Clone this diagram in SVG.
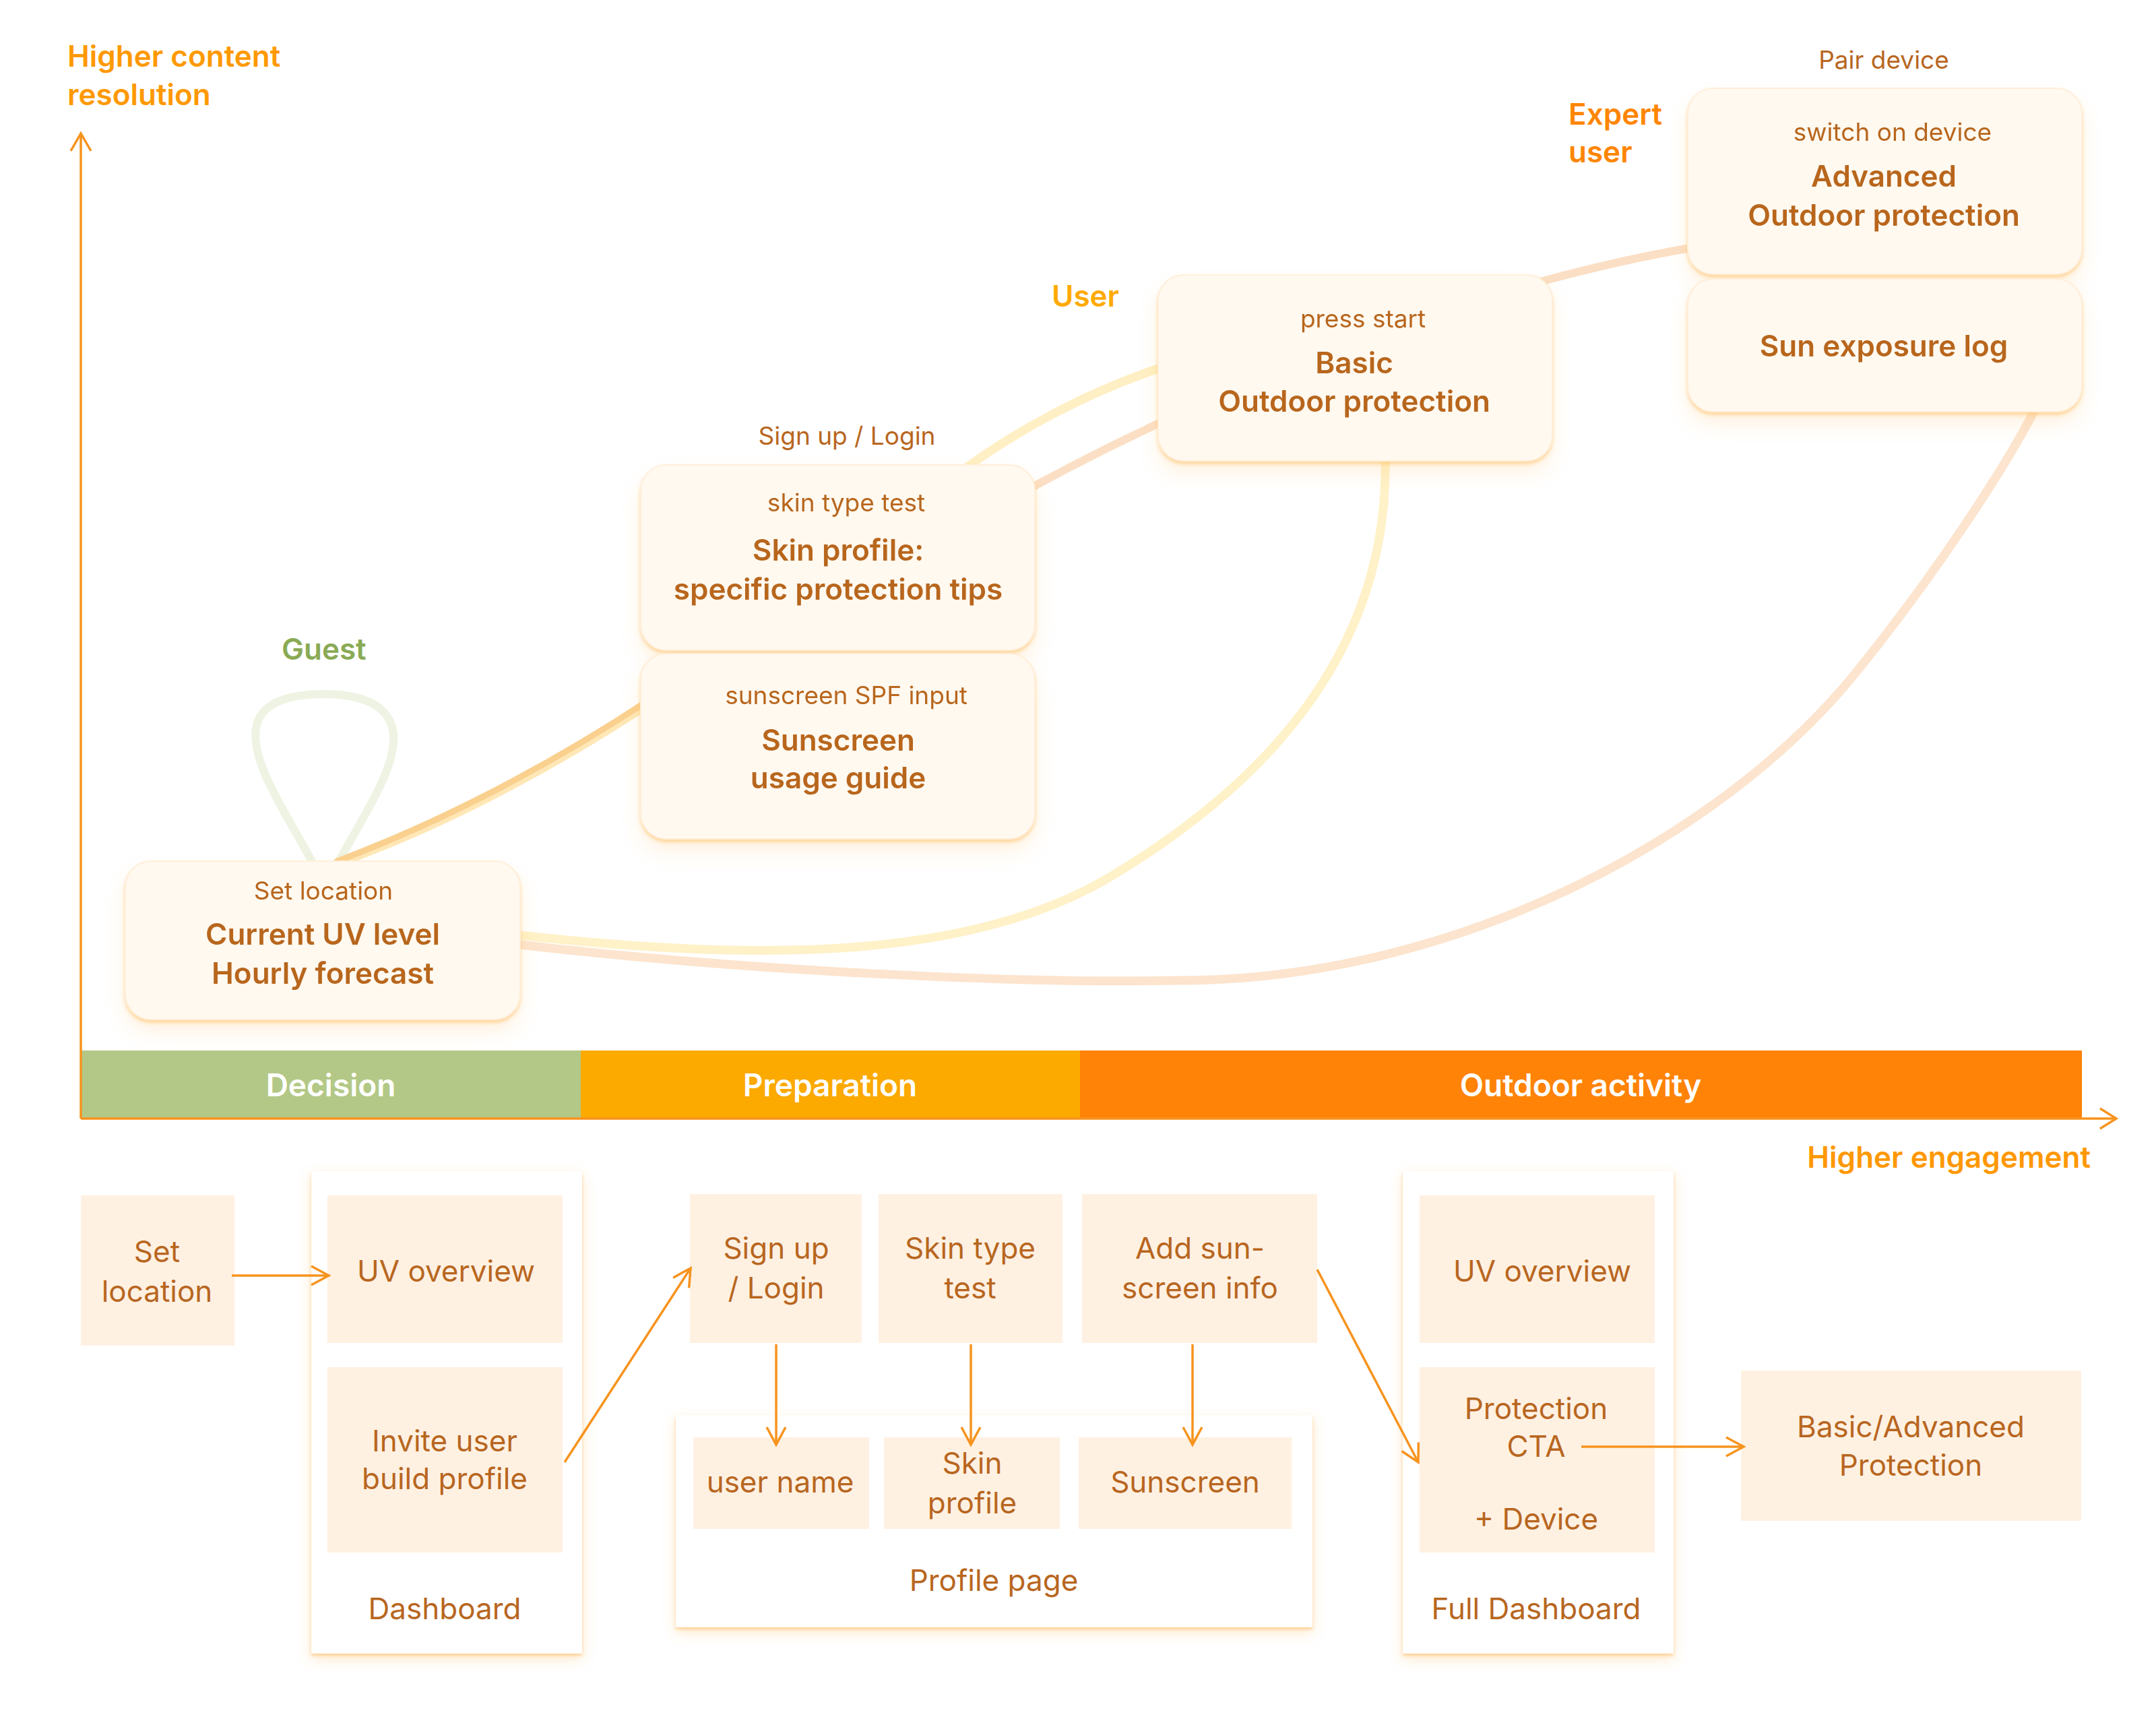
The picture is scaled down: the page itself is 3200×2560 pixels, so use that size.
<svg xmlns="http://www.w3.org/2000/svg" width="3200" height="2560" viewBox="0 0 3200 2560">
<defs>
<style>
.bg{fill:#ffffff}
.node{fill:#FFF9F0;stroke:#FFEFD9;stroke-width:2}
.box{fill:#FFF1E2}
.panel{fill:#ffffff}
.sm{font-family:Inter,"Liberation Sans",sans-serif;font-size:37px;fill:#B8661F;text-anchor:middle}
.bd{font-family:Inter,"Liberation Sans",sans-serif;font-size:44px;font-weight:600;fill:#B8661F;text-anchor:middle}
.rg{font-family:Inter,"Liberation Sans",sans-serif;font-size:44px;fill:#B8661F;text-anchor:middle}
.lbl{font-family:Inter,"Liberation Sans",sans-serif;font-size:44px;font-weight:600}
.band{font-family:Inter,"Liberation Sans",sans-serif;font-size:46px;font-weight:600;fill:#ffffff;text-anchor:middle}
.axis{fill:none;stroke:#F7931E;stroke-width:3.5}
.arr{fill:none;stroke:#F7931E;stroke-width:3.5;marker-end:url(#chev)}
.curve{fill:none;stroke-linecap:round}
</style>
<marker id="chev" viewBox="0 0 40 40" refX="30" refY="20" markerWidth="40" markerHeight="40" markerUnits="userSpaceOnUse" orient="auto">
<path d="M4 6 L30 20 L4 34" fill="none" stroke="#F7931E" stroke-width="3.5"/>
</marker>
<filter id="nodeShadow" x="-10%" y="-15%" width="120%" height="145%">
<feGaussianBlur in="SourceAlpha" stdDeviation="14" result="b1"/>
<feOffset in="b1" dy="18" result="o1"/>
<feFlood flood-color="#FFB24D" flood-opacity="0.16"/>
<feComposite in2="o1" operator="in" result="s1"/>
<feGaussianBlur in="SourceAlpha" stdDeviation="2.5" result="b2"/>
<feOffset in="b2" dy="4" result="o2"/>
<feFlood flood-color="#FFC46E" flood-opacity="0.6"/>
<feComposite in2="o2" operator="in" result="s2"/>
<feMerge><feMergeNode in="s1"/><feMergeNode in="s2"/><feMergeNode in="SourceGraphic"/></feMerge>
</filter>
<filter id="panelShadow" x="-10%" y="-10%" width="120%" height="125%">
<feGaussianBlur in="SourceAlpha" stdDeviation="10" result="b1"/>
<feOffset in="b1" dy="8" result="o1"/>
<feFlood flood-color="#FFB04A" flood-opacity="0.28"/>
<feComposite in2="o1" operator="in" result="s1"/>
<feGaussianBlur in="SourceAlpha" stdDeviation="2" result="b2"/>
<feOffset in="b2" dy="3" result="o2"/>
<feFlood flood-color="#FFB85C" flood-opacity="0.55"/>
<feComposite in2="o2" operator="in" result="s2"/>
<feMerge><feMergeNode in="s1"/><feMergeNode in="s2"/><feMergeNode in="SourceGraphic"/></feMerge>
</filter>
</defs>
<rect class="bg" x="0" y="0" width="3200" height="2560"/>

<g id="axes">
<text class="lbl" x="100" y="99" fill="#FF9900">Higher content</text>
<text class="lbl" x="100" y="156" fill="#FF9900">resolution</text>
<rect x="120" y="1559" width="742" height="101" fill="#B3C886"/>
<rect x="862" y="1559" width="741" height="101" fill="#FCA900"/>
<rect x="1603" y="1559" width="1487" height="101" fill="#FF8307"/>
<text class="band" x="491" y="1627">Decision</text>
<text class="band" x="1232" y="1627">Preparation</text>
<text class="band" x="2346" y="1627">Outdoor activity</text>
<path class="axis" d="M120 1660 V198"/>
<path class="axis" d="M105 224 L120 198 L135 224"/>
<path class="axis" d="M120 1660 H3140"/>
<path class="axis" d="M3117 1645 L3141 1660 L3117 1675"/>
<text class="lbl" x="3103" y="1733" fill="#FF9800" text-anchor="end">Higher engagement</text>
</g>

<g id="persona-labels">
<text class="lbl" x="418" y="979" fill="#8AAA55">Guest</text>
<text class="lbl" x="1561" y="455" fill="#FFAA00">User</text>
<text class="lbl" x="2328" y="185" fill="#FF8500">Expert</text>
<text class="lbl" x="2328" y="241" fill="#FF8500">user</text>
</g>

<g id="connectors">
<path class="curve" d="M463 1278 C420 1200 372 1130 380 1080 C387 1042 430 1030 482 1030 C534 1030 580 1045 584 1090 C588 1140 540 1210 503 1278" stroke="#EEF3E3" stroke-width="12"/>
<path class="curve" d="M500 1282 C640 1232 800 1152 960 1047" stroke="#FFE7B6" stroke-width="12"/>
<path class="curve" d="M500 1278 C640 1226 800 1146 960 1041" stroke="#FAD08F" stroke-width="9"/>
<path class="curve" d="M1400 720 C1500 640 1620 580 1725 545" stroke="#FFEFC4" stroke-width="13"/>
<path class="curve" d="M1480 752 C1800 570 2200 420 2520 366" stroke="#FBDFC4" stroke-width="12"/>
<path class="curve" d="M772 1388 C1150 1430 1450 1420 1650 1300 C1900 1150 2060 950 2056 684" stroke="#FFF1C8" stroke-width="13"/>
<path class="curve" d="M772 1402 C1100 1440 1500 1460 1750 1455 C2150 1455 2550 1250 2753 1000 C2875 850 2978 690 3018 612" stroke="#FCE4CE" stroke-width="13"/>
</g>

<g id="node-current-uv" filter="url(#nodeShadow)">
<rect class="node" x="186" y="1278" width="586" height="235" rx="38"/>
<text class="sm" x="480" y="1335">Set location</text>
<text class="bd" x="479" y="1402">Current UV level</text>
<text class="bd" x="479" y="1460">Hourly forecast</text>
</g>

<g id="node-skin-profile">
<text class="sm" x="1257" y="660">Sign up / Login</text>
<g filter="url(#nodeShadow)">
<rect class="node" x="951" y="690" width="585" height="275" rx="38"/>
<text class="sm" x="1256" y="759">skin type test</text>
<text class="bd" x="1244" y="832">Skin profile:</text>
<text class="bd" x="1244" y="890">specific protection tips</text>
</g>
</g>

<g id="node-sunscreen-guide" filter="url(#nodeShadow)">
<rect class="node" x="951" y="970" width="585" height="275" rx="38"/>
<text class="sm" x="1256" y="1045">sunscreen SPF input</text>
<text class="bd" x="1244" y="1114">Sunscreen</text>
<text class="bd" x="1244" y="1170">usage guide</text>
</g>

<g id="node-basic" filter="url(#nodeShadow)">
<rect class="node" x="1719" y="408" width="585" height="276" rx="38"/>
<text class="sm" x="2023" y="486">press start</text>
<text class="bd" x="2010" y="554">Basic</text>
<text class="bd" x="2010" y="611">Outdoor protection</text>
</g>

<g id="node-advanced">
<text class="sm" x="2796" y="102">Pair device</text>
<g filter="url(#nodeShadow)">
<rect class="node" x="2505" y="131" width="585" height="276" rx="38"/>
<text class="sm" x="2809" y="209">switch on device</text>
<text class="bd" x="2796" y="277">Advanced</text>
<text class="bd" x="2796" y="335">Outdoor protection</text>
</g>
</g>

<g id="node-sun-log" filter="url(#nodeShadow)">
<rect class="node" x="2505" y="414" width="585" height="197" rx="38"/>
<text class="bd" x="2796" y="529">Sun exposure log</text>
</g>

<g id="node-set-location">
<rect class="box" x="120" y="1774" width="228" height="223"/>
<text class="rg" x="233" y="1873">Set</text>
<text class="rg" x="233" y="1932">location</text>
</g>

<g id="node-dashboard">
<rect class="panel" x="462" y="1738" width="402" height="716" filter="url(#panelShadow)"/>
<rect class="box" x="486" y="1774" width="349" height="219"/>
<text class="rg" x="662" y="1902">UV overview</text>
<rect class="box" x="486" y="2029" width="349" height="275"/>
<text class="rg" x="660" y="2154">Invite user</text>
<text class="rg" x="660" y="2210">build profile</text>
<text class="rg" x="660" y="2403">Dashboard</text>
</g>

<g id="node-signup">
<rect class="box" x="1024" y="1772" width="255" height="221"/>
<text class="rg" x="1152" y="1868">Sign up</text>
<text class="rg" x="1152" y="1927">/ Login</text>
</g>

<g id="node-skin-test">
<rect class="box" x="1304" y="1772" width="273" height="221"/>
<text class="rg" x="1440" y="1868">Skin type</text>
<text class="rg" x="1440" y="1927">test</text>
</g>

<g id="node-add-sunscreen">
<rect class="box" x="1606" y="1772" width="349" height="221"/>
<text class="rg" x="1781" y="1868">Add sun-</text>
<text class="rg" x="1781" y="1927">screen info</text>
</g>

<g id="node-profile-page">
<rect class="panel" x="1003" y="2100" width="945" height="315" filter="url(#panelShadow)"/>
<rect class="box" x="1029" y="2133" width="261" height="136"/>
<text class="rg" x="1158" y="2215">user name</text>
<rect class="box" x="1312" y="2133" width="261" height="136"/>
<text class="rg" x="1443" y="2187">Skin</text>
<text class="rg" x="1443" y="2246">profile</text>
<rect class="box" x="1601" y="2133" width="316" height="136"/>
<text class="rg" x="1759" y="2215">Sunscreen</text>
<text class="rg" x="1475" y="2361">Profile page</text>
</g>

<g id="node-full-dashboard">
<rect class="panel" x="2082" y="1738" width="402" height="716" filter="url(#panelShadow)"/>
<rect class="box" x="2107" y="1774" width="349" height="219"/>
<text class="rg" x="2289" y="1902">UV overview</text>
<rect class="box" x="2107" y="2029" width="349" height="275"/>
<text class="rg" x="2280" y="2106">Protection</text>
<text class="rg" x="2280" y="2162">CTA</text>
<text class="rg" x="2280" y="2270">+ Device</text>
<text class="rg" x="2280" y="2403">Full Dashboard</text>
</g>

<g id="node-basic-advanced">
<rect class="box" x="2584" y="2034" width="505" height="223"/>
<text class="rg" x="2836" y="2133">Basic/Advanced</text>
<text class="rg" x="2836" y="2190">Protection</text>
</g>

<g id="flow-connectors">
<path class="arr" d="M344 1893 H488"/>
<path class="arr" d="M838 2170 L1025 1882"/>
<path class="arr" d="M1152 1995 V2144"/>
<path class="arr" d="M1441 1995 V2144"/>
<path class="arr" d="M1770 1995 V2144"/>
<path class="arr" d="M1955 1884 L2105 2170"/>
<path class="arr" d="M2347 2147 H2588"/>
</g>
</svg>
